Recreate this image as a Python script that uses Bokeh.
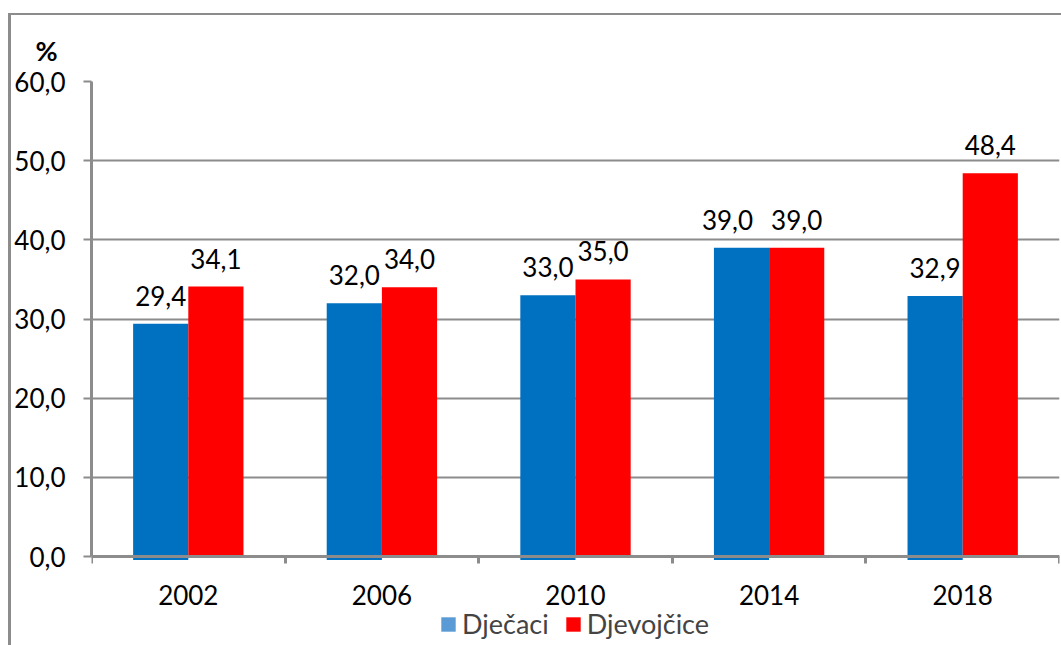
from bokeh.plotting import figure
from bokeh.models import (ColumnDataSource, Range1d, FixedTicker, Legend, LegendItem,
                          InlineStyleSheet)
from bokeh.transform import dodge
from bokeh.core.properties import value
from bokeh.embed import file_html
from bokeh.resources import INLINE

# ---- data ----
years = ["2002", "2006", "2010", "2014", "2018"]
boys = [29.4, 32.0, 33.0, 39.0, 32.9]
girls = [34.1, 34.0, 35.0, 39.0, 48.4]
series_names = ["Dječaci", "Djevojčice"]
y_ticks = [0, 10, 20, 30, 40, 50, 60]
y_unit = "%"

# ---- style ----
FONT = "Lato"
FS = "26px"
BLUE = "#0070C0"
RED = "#FF0000"
LEG_BLUE = "#5B9BD5"
GRAY = "#8C8C8C"
boy_label_nudge_px = [0, 0, 0, -14, 0]

W, H = 1061, 645
FRAME_TOP, FRAME_LEFT, FRAME_RIGHT_PAD = 81, 91, 2
AXIS_Y_PX = 556            # pixel row of the value 0
y_max = max(y_ticks)
px_per_unit = (AXIS_Y_PX - FRAME_TOP) / y_max
y_min = -(H - AXIS_Y_PX) / px_per_unit   # room under the axis for labels + legend


def fmt(v):
    return f"{v:.1f}".replace(".", ",")


n = len(years)
centers = [i + 0.5 for i in range(n)]
bar_w = 0.285
off = bar_w / 2

p = figure(width=W, height=H, x_range=Range1d(0, n), y_range=Range1d(y_min, y_max),
           output_backend="svg", toolbar_location=None,
           min_border_left=FRAME_LEFT, min_border_right=FRAME_RIGHT_PAD,
           min_border_top=FRAME_TOP, min_border_bottom=0)
p.outline_line_color = None
p.background_fill_color = "white"
p.border_fill_color = "white"
p.xgrid.visible = False
p.ygrid.grid_line_color = GRAY
p.ygrid.grid_line_width = 2
p.ygrid.ticker = FixedTicker(ticks=y_ticks)

src = ColumnDataSource(dict(
    x=centers, boys=boys, girls=girls,
    boys_lbl=[fmt(v) for v in boys], girls_lbl=[fmt(v) for v in girls],
    boys_nudge=boy_label_nudge_px,
))

p.vbar(x=dodge("x", -off), top="boys", bottom=-3.5 / px_per_unit, width=bar_w,
       fill_color=BLUE, line_color=None, source=src)
red_r = p.vbar(x=dodge("x", off), top="girls", width=bar_w, fill_color=RED,
               line_color=None, source=src)

lbl_kw = dict(text_font=value(FONT), text_font_size=FS, text_color="black",
              text_align="center", text_baseline="alphabetic", y_offset=-28, source=src)
p.text(x=dodge("x", -off), y="boys", text="boys_lbl", x_offset="boys_nudge", **lbl_kw)
p.text(x=dodge("x", off), y="girls", text="girls_lbl", **lbl_kw)

# title used as the unit label above the y axis
p.title.text = y_unit
p.title.align = "left"
p.title.offset = -56
p.title.text_font = FONT
p.title.text_font_style = "bold"
p.title.text_font_size = "27px"
p.title.text_color = "black"
p.title.standoff = 30

# x axis pinned at value 0
xa = p.xaxis[0]
xa.fixed_location = 0
xa.ticker = FixedTicker(ticks=centers, minor_ticks=list(range(n + 1)))
xa.major_label_overrides = {c: y for c, y in zip(centers, years)}
xa.major_tick_out = 0
xa.major_tick_in = 0
xa.minor_tick_out = 7
xa.minor_tick_in = 0
xa.minor_tick_line_color = GRAY
xa.minor_tick_line_width = 3
xa.axis_line_color = GRAY
xa.axis_line_width = 3
xa.major_label_standoff = 21
xa.major_label_text_font = FONT
xa.major_label_text_font_size = FS
xa.major_label_text_color = "black"

ya = p.yaxis[0]
ya.bounds = (0, y_max)
ya.ticker = FixedTicker(ticks=y_ticks)
ya.major_label_overrides = {t: fmt(t) for t in y_ticks}
ya.major_tick_out = 8
ya.major_tick_in = 0
ya.major_tick_line_color = GRAY
ya.major_tick_line_width = 2
ya.minor_tick_out = 0
ya.minor_tick_in = 0
ya.axis_line_color = GRAY
ya.axis_line_width = 3
ya.major_label_standoff = 18
ya.major_label_text_font = FONT
ya.major_label_text_font_size = FS
ya.major_label_text_color = "black"

# legend (swatch colour for boys is the lighter Excel blue); dummy zero-height bar
leg_b = p.vbar(x=[centers[0]], top=[0], bottom=[0], width=0.0, fill_color=LEG_BLUE,
               line_color=None)
legend = Legend(items=[LegendItem(label=series_names[0], renderers=[leg_b]),
                       LegendItem(label=series_names[1], renderers=[red_r])],
                orientation="horizontal", location=(348, 5),
                glyph_width=18, glyph_height=18, label_standoff=5, spacing=15,
                padding=0, margin=0, border_line_color=None, background_fill_alpha=0,
                label_text_font=FONT, label_text_font_size="27px")
p.add_layout(legend)

p.stylesheets = [InlineStyleSheet(css=(
    ":host{position:relative;}"
    ":host::before{content:'';position:absolute;left:8px;top:13px;right:0;bottom:0;"
    "border-left:3px solid #8c8c8c;border-top:2px solid #8c8c8c;"
    "pointer-events:none;z-index:10;}"))]

open("out.html", "w").write(file_html(p, INLINE))
